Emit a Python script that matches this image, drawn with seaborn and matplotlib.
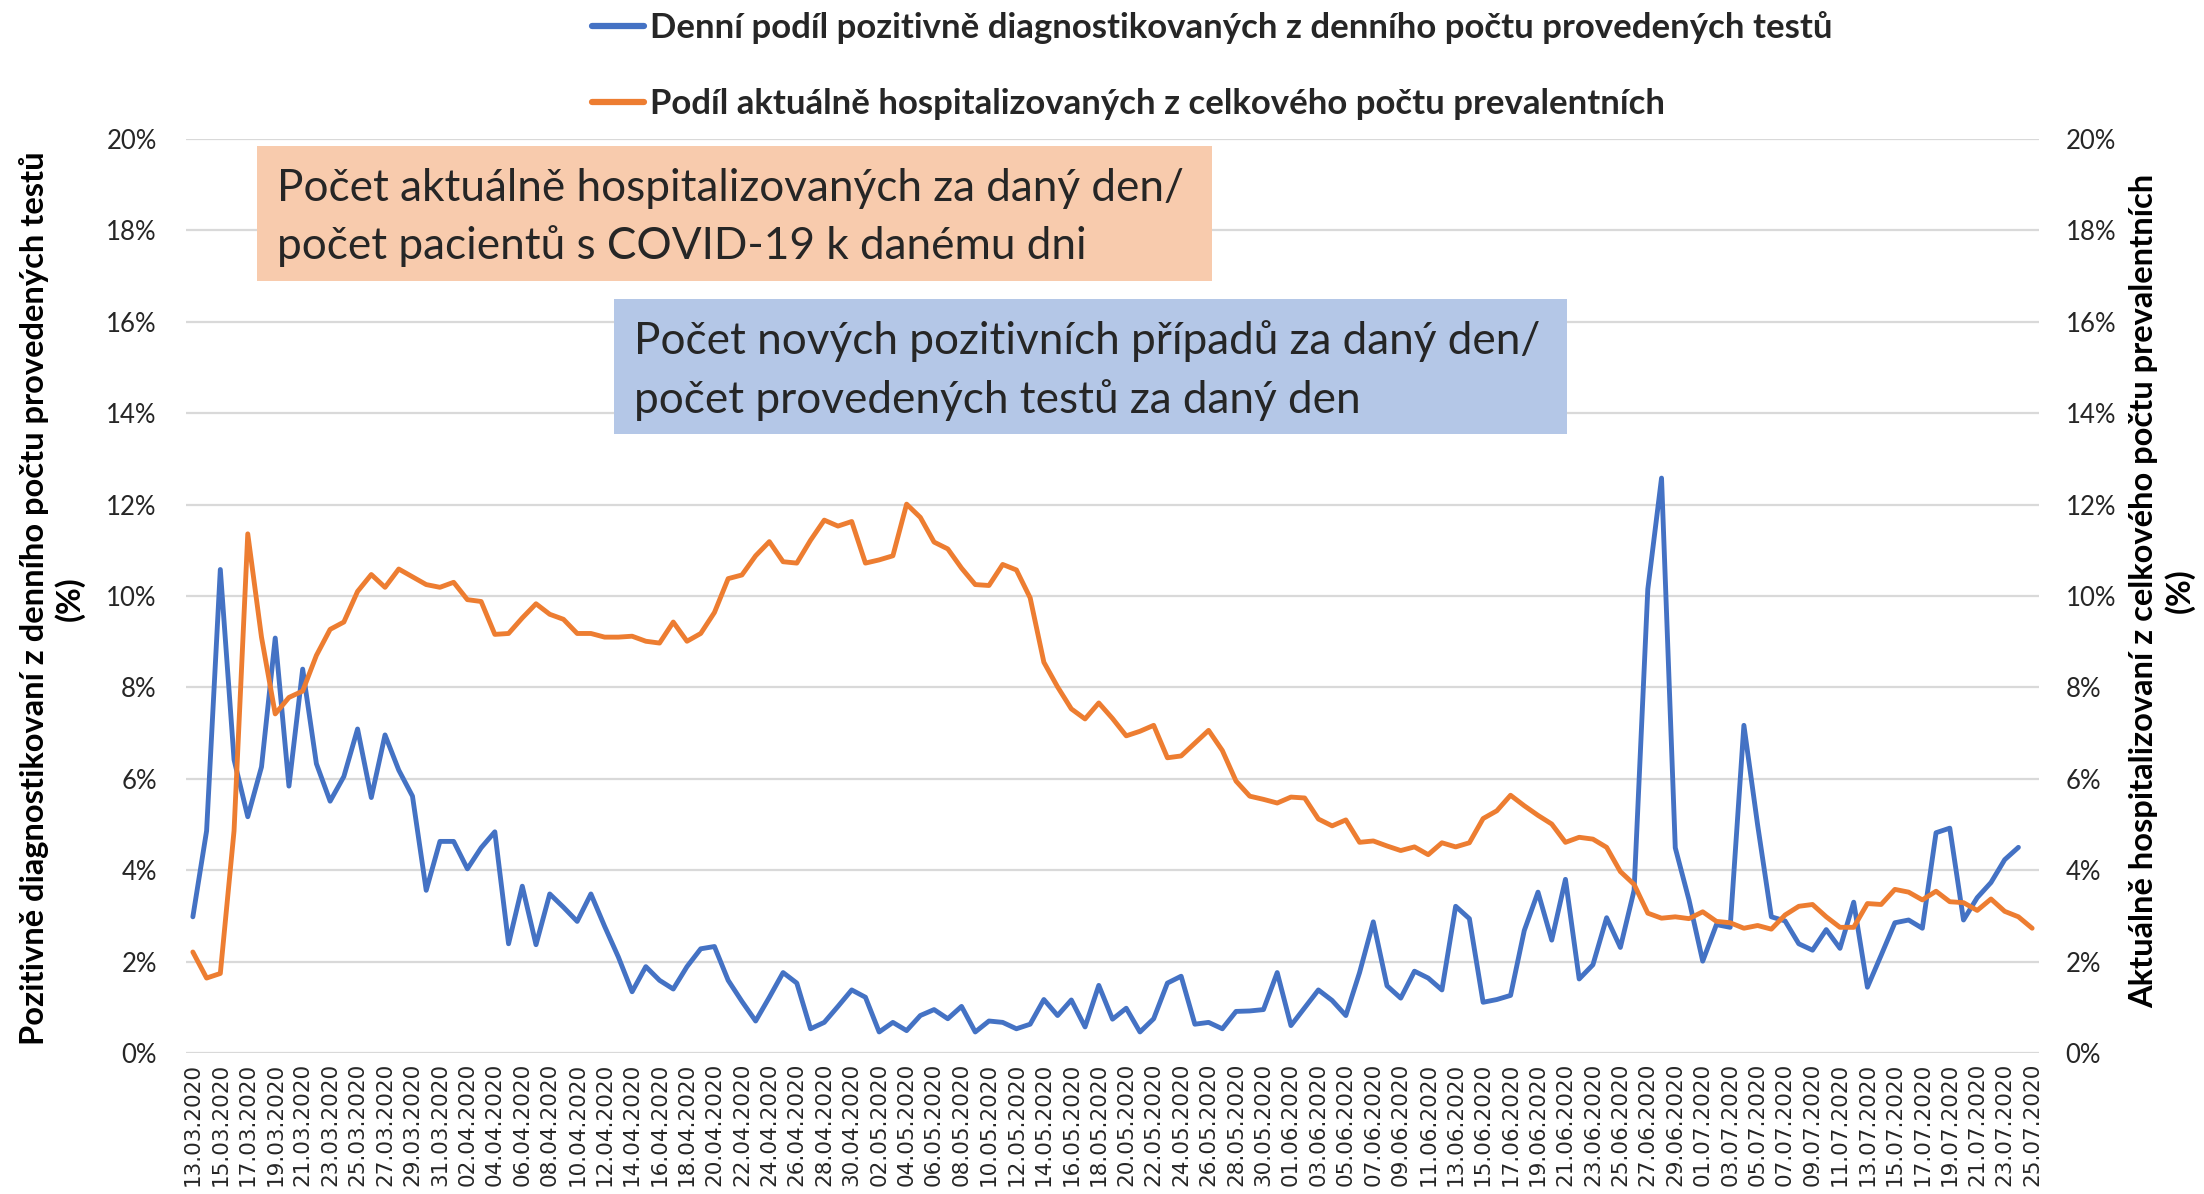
import numpy as np
import pandas as pd
import matplotlib
matplotlib.use("Agg")
import matplotlib.pyplot as plt
from matplotlib.patches import Rectangle
from matplotlib.ticker import FuncFormatter, MultipleLocator
import seaborn as sns

# ---------------- data ----------------
dates = pd.date_range("2020-03-13", "2020-07-25", freq="D")
date_labels = [d.strftime("%d.%m.%Y") for d in dates]

# Daily share of positive tests (%), 13.03.2020 - 24.07.2020
positive_share = [
    2.98, 4.86, 10.58, 6.42, 5.17, 6.26, 9.08, 5.84, 8.40, 6.33,
    5.51, 6.05, 7.09, 5.59, 6.96, 6.19, 5.62, 3.56, 4.63, 4.63,
    4.03, 4.49, 4.84, 2.39, 3.65, 2.37, 3.48, 3.19, 2.88,
    3.48, 2.77, 2.10, 1.34, 1.89, 1.59, 1.40, 1.89, 2.28, 2.33,
    1.59, 1.13, 0.70, 1.22, 1.76, 1.53, 0.53, 0.67, 1.02, 1.38,
    1.22, 0.46, 0.67, 0.49, 0.82, 0.95, 0.75,
    1.02, 0.46, 0.70, 0.67, 0.53, 0.63, 1.17, 0.82, 1.16, 0.57,
    1.48, 0.74, 0.98, 0.46, 0.75, 1.53, 1.68, 0.63, 0.67, 0.53,
    0.91, 0.92, 0.95, 1.76, 0.60, 0.99, 1.38, 1.15,
    0.82, 1.76, 2.87, 1.47, 1.20, 1.79, 1.64, 1.38, 3.21, 2.94,
    1.11, 1.17, 1.26, 2.68, 3.52, 2.47, 3.80, 1.62, 1.93, 2.96,
    2.31, 3.56, 10.15, 12.58, 4.49, 3.35, 2.01, 2.81,
    2.75, 7.17, 4.99, 2.98, 2.89, 2.39, 2.25, 2.70, 2.29, 3.30,
    1.44, 2.14, 2.85, 2.91, 2.73, 4.82, 4.92, 2.91, 3.40, 3.73,
    4.23, 4.50,
]

# Share of currently hospitalised among prevalent cases (%), 13.03.2020 - 25.07.2020
hosp_share = [
    2.21, 1.64, 1.74, 4.86, 11.36, 9.10, 7.42, 7.78, 7.92, 8.70,
    9.27, 9.43, 10.10, 10.47, 10.19, 10.59, 10.42, 10.25, 10.19, 10.30,
    9.92, 9.88, 9.16, 9.18, 9.52, 9.83, 9.60, 9.49, 9.18,
    9.18, 9.10, 9.10, 9.12, 9.01, 8.97, 9.43, 9.01, 9.18, 9.64,
    10.38, 10.46, 10.88, 11.19, 10.75, 10.72, 11.22, 11.66, 11.53, 11.63,
    10.72, 10.79, 10.88, 12.01, 11.72, 11.18, 11.03,
    10.61, 10.25, 10.23, 10.69, 10.57, 9.96, 8.55, 8.01, 7.53, 7.31,
    7.66, 7.32, 6.94, 7.04, 7.17, 6.46, 6.50, 6.78, 7.06, 6.62,
    5.95, 5.62, 5.55, 5.47, 5.60, 5.58, 5.12, 4.97,
    5.10, 4.61, 4.64, 4.53, 4.43, 4.51, 4.34, 4.60, 4.51, 4.60,
    5.13, 5.30, 5.64, 5.41, 5.20, 5.01, 4.61, 4.72, 4.68, 4.50,
    3.97, 3.69, 3.06, 2.95, 2.98, 2.94, 3.09, 2.88,
    2.85, 2.73, 2.79, 2.71, 3.02, 3.21, 3.25, 2.98, 2.75, 2.75,
    3.27, 3.25, 3.58, 3.52, 3.35, 3.54, 3.31, 3.29, 3.12, 3.37,
    3.10, 2.98, 2.73,
]

legend_labels = [
    "Denní podíl pozitivně diagnostikovaných z denního počtu provedených testů",
    "Podíl aktuálně hospitalizovaných z celkového počtu prevalentních",
]
left_title = "Pozitivně diagnostikovaní z denního počtu provedených testů\n(%)"
right_title = "Aktuálně hospitalizovaní z celkového počtu prevalentních\n(%)"
box_orange_text = "Počet aktuálně hospitalizovaných za daný den/\npočet pacientů s COVID-19 k danému dni"
box_blue_text = "Počet nových pozitivních případů za daný den/\npočet provedených testů za daný den"

# ---------------- style ----------------
sns.set_theme(style="white")
plt.rcParams["font.family"] = ["Lato", "DejaVu Sans"]

BLUE = "#4472C4"
ORANGE = "#ED7D31"
GRID = "#D9D9D9"
TXT = "#262626"

W, H = 2204, 1194
fig = plt.figure(figsize=(W / 100, H / 100), dpi=100)
L, R, B, T = 186 / W, 2039 / W, 1 - 1053 / H, 1 - 139 / H
ax = fig.add_axes([L, B, R - L, T - B])
ax2 = ax.twinx()

df_pos = pd.DataFrame({"idx": np.arange(len(positive_share)), "val": positive_share})
df_hosp = pd.DataFrame({"idx": np.arange(len(hosp_share)), "val": hosp_share})

lw = 3.5
sns.lineplot(data=df_pos, x="idx", y="val", ax=ax, color=BLUE, linewidth=lw,
             solid_joinstyle="round", solid_capstyle="round", zorder=3)
sns.lineplot(data=df_hosp, x="idx", y="val", ax=ax2, color=ORANGE, linewidth=lw,
             solid_joinstyle="round", solid_capstyle="round", zorder=3)

n = len(dates)
for a in (ax, ax2):
    a.set_xlim(-0.5, n - 0.5)
    a.set_ylim(0, 20)
    a.yaxis.set_major_locator(MultipleLocator(2))
    a.yaxis.set_major_formatter(FuncFormatter(lambda v, p: f"{v:.0f}%"))
    a.set_xlabel("")
    a.set_ylabel("")
    for s in a.spines.values():
        s.set_visible(False)
    a.tick_params(axis="both", length=0)

ax.grid(axis="y", color=GRID, linewidth=1.6)
ax.grid(axis="x", visible=False)
ax2.grid(False)
ax.set_axisbelow(True)

ax.set_xticks(np.arange(0, n, 2))
ax.set_xticklabels(date_labels[::2], rotation=90, fontsize=15.5, color=TXT,
                   family=["DejaVu Sans"])
ax.tick_params(axis="x", pad=7)
ax.tick_params(axis="y", labelsize=18.5, labelcolor=TXT, pad=21)
ax2.tick_params(axis="y", labelsize=18.5, labelcolor=TXT, pad=19)

# axis titles
fig.text(52 / W, 0.499, left_title, rotation=90, ha="center", va="center",
         fontsize=23.5, fontweight="bold", color="black", linespacing=1.2,
         multialignment="center")
fig.text(2162 / W, 0.505, right_title, rotation=90, ha="center", va="center",
         fontsize=23.5, fontweight="bold", color="black", linespacing=1.2,
         multialignment="center")

# legend
h1 = plt.Line2D([], [], color=BLUE, linewidth=4.5)
h2 = plt.Line2D([], [], color=ORANGE, linewidth=4.5)
fig.legend([h1, h2], legend_labels, loc="center left",
           bbox_to_anchor=(575 / W, 1 - 65.5 / H), frameon=False,
           prop={"weight": "bold", "size": 25}, handlelength=1.5,
           handletextpad=0.16, labelspacing=1.26, borderpad=0)

# annotation boxes
def box(x0, y0, x1, y1, color, text):
    fig.add_artist(Rectangle((x0 / W, 1 - y1 / H), (x1 - x0) / W, (y1 - y0) / H,
                             transform=fig.transFigure, facecolor=color,
                             edgecolor="none", zorder=5))
    fig.text((x0 + 20) / W, 1 - ((y0 + y1) / 2 + 4) / H, text, ha="left", va="center",
             fontsize=31.8, color=TXT, linespacing=1.5, zorder=6)

box(257, 146, 1212, 281, "#F8CBAD", box_orange_text)
box(614, 299, 1567, 434, "#B4C7E7", box_blue_text)

fig.savefig("out.png", dpi=100, facecolor="white")
